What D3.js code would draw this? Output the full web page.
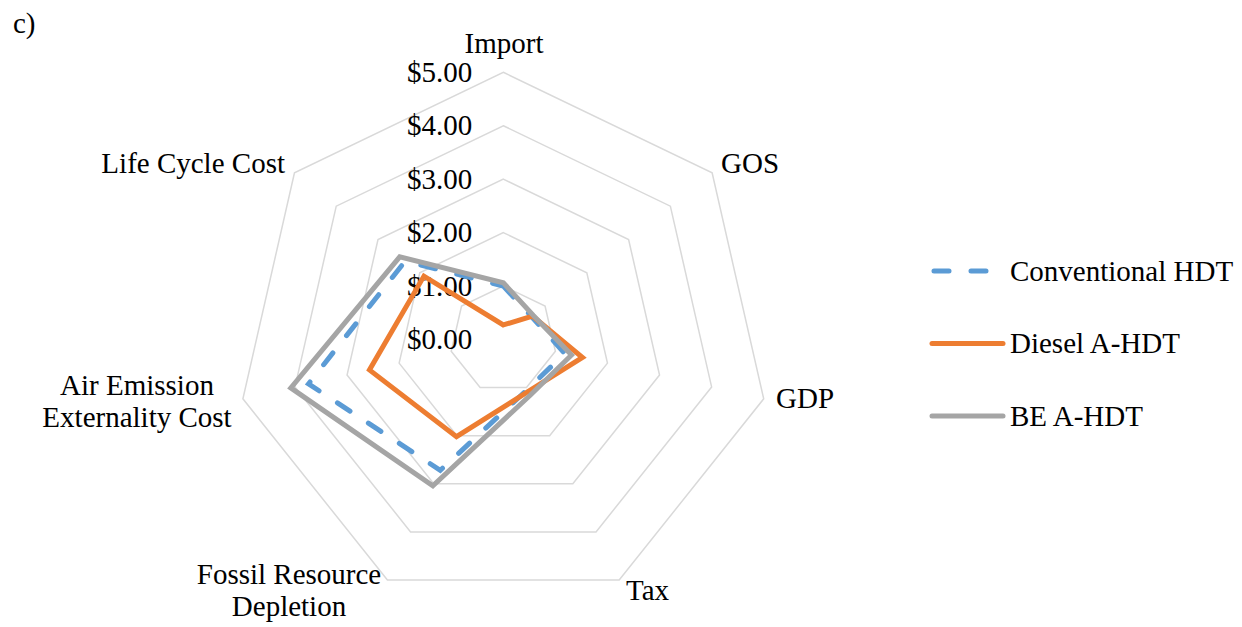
<!DOCTYPE html>
<html>
<head>
<meta charset="utf-8">
<script src="https://cdn.jsdelivr.net/npm/d3@7"></script>
<style>
  html, body { margin: 0; padding: 0; background: #fff; }
  svg { display: block; }
  text { font-family: "Liberation Serif", "Times New Roman", serif; fill: #000; }
</style>
</head>
<body>
<svg id="chart" width="1242" height="627"></svg>
<script>
// ---- data ----
const categories = ["Import", "GOS", "GDP", "Tax", "Fossil Resource Depletion", "Air Emission Externality Cost", "Life Cycle Cost"];
const seriesNames = ["Conventional HDT", "Diesel A-HDT", "BE A-HDT"];
const conventionalHDT = [1.00, 0.68, 1.18, 1.04, 2.72, 3.74, 2.35];
const dieselAHDT      = [0.27, 0.70, 1.52, 1.08, 2.02, 2.57, 1.90];
const beAHDT          = [1.06, 0.72, 1.31, 1.16, 3.04, 4.08, 2.48];
const tickValues = [0, 1, 2, 3, 4, 5];
const tickLabels = ["$0.00", "$1.00", "$2.00", "$3.00", "$4.00", "$5.00"];

const series = [
  { name: seriesNames[0], values: conventionalHDT, color: "#5B9BD5", dash: "15,22" },
  { name: seriesNames[1], values: dieselAHDT,      color: "#ED7D31", dash: null },
  { name: seriesNames[2], values: beAHDT,          color: "#A5A5A5", dash: null }
];

// ---- layout ----
const svg = d3.select("#chart");
const cx = 503.3, cy = 339.4, R = 267.1;
const r = d3.scaleLinear().domain([0, 5]).range([0, R]);
const angle = d3.scaleLinear().domain([0, categories.length]).range([0, 2 * Math.PI]);
const g = svg.append("g").attr("transform", `translate(${cx},${cy})`);

// grid rings
const ringLine = d3.lineRadial()
  .angle((d, i) => angle(i))
  .radius(d => r(d))
  .curve(d3.curveLinearClosed);
g.append("g").selectAll("path")
  .data(tickValues.filter(v => v > 0))
  .join("path")
  .attr("d", v => ringLine(categories.map(() => v)))
  .attr("fill", "none")
  .attr("stroke", "#D9D9D9")
  .attr("stroke-width", 1.5);

// tick labels
g.append("g").selectAll("text")
  .data(tickValues)
  .join("text")
  .attr("x", -31)
  .attr("y", v => -r(v))
  .attr("dy", "0.33em")
  .attr("text-anchor", "end")
  .attr("font-size", 29)
  .text((v, i) => tickLabels[i]);

// series
const seriesLine = d3.lineRadial()
  .angle((d, i) => angle(i))
  .radius(d => r(d))
  .curve(d3.curveLinearClosed);
g.append("g").selectAll("path")
  .data(series)
  .join("path")
  .attr("d", s => seriesLine(s.values))
  .attr("fill", "none")
  .attr("stroke", s => s.color)
  .attr("stroke-width", 5)
  .attr("stroke-linejoin", "miter")
  .attr("stroke-linecap", s => s.dash ? "round" : "butt")
  .attr("stroke-dasharray", s => s.dash);

// category labels
const catLabels = [
  { lines: ["Import"], x: 504, y: 53, anchor: "middle" },
  { lines: ["GOS"], x: 721, y: 173, anchor: "start" },
  { lines: ["GDP"], x: 776, y: 408, anchor: "start" },
  { lines: ["Tax"], x: 626, y: 600, anchor: "start" },
  { lines: ["Fossil Resource", "Depletion"], x: 289, y: 584, anchor: "middle" },
  { lines: ["Air Emission", "Externality Cost"], x: 137, y: 395, anchor: "middle" },
  { lines: ["Life Cycle Cost"], x: 285, y: 173, anchor: "end" }
];
const cl = svg.append("g").selectAll("text")
  .data(catLabels)
  .join("text")
  .attr("x", d => d.x)
  .attr("y", d => d.y)
  .attr("text-anchor", d => d.anchor)
  .attr("font-size", 29);
cl.selectAll("tspan")
  .data(d => d.lines.map((t, i) => ({ t, i, x: d.x })))
  .join("tspan")
  .attr("x", d => d.x)
  .attr("dy", d => d.i === 0 ? 0 : 32)
  .text(d => d.t);

// panel tag
svg.append("text").attr("x", 13).attr("y", 33).attr("font-size", 29).text("c)");

// legend
const legendY = d3.scalePoint().domain(seriesNames).range([271, 416]);
const lg = svg.append("g").selectAll("g")
  .data(series)
  .join("g")
  .attr("transform", s => `translate(0,${legendY(s.name)})`);
lg.append("line")
  .attr("x1", s => s.dash ? 934 : 932)
  .attr("x2", s => s.dash ? 990 : 1003)
  .attr("y1", 0).attr("y2", 0)
  .attr("stroke", s => s.color)
  .attr("stroke-width", 5)
  .attr("stroke-linecap", "round")
  .attr("stroke-dasharray", s => s.dash ? "15,22" : null);
lg.append("text")
  .attr("x", 1010)
  .attr("y", 0)
  .attr("dy", "0.33em")
  .attr("font-size", 29)
  .text(s => s.name);
</script>
</body>
</html>
